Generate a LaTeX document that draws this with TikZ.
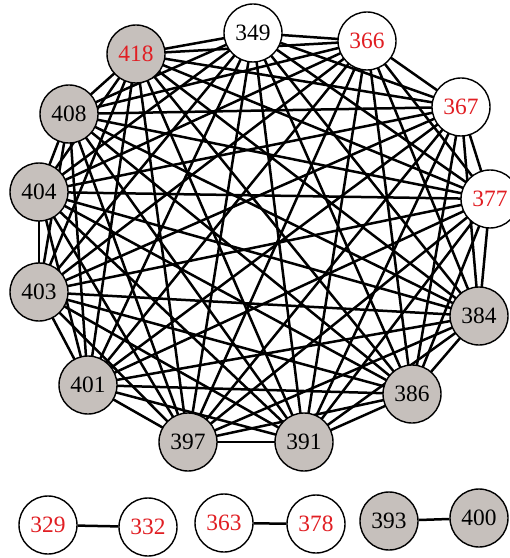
\documentclass[tikz,border=0pt]{standalone}
\usepackage{fontspec}
\setmainfont{Liberation Serif}
\usetikzlibrary{backgrounds}
\definecolor{nodegrey}{RGB}{198,192,188}
\definecolor{labred}{RGB}{225,30,35}
\tikzset{
  vtx/.style={circle, draw=black, line width=1.4bp, minimum size=58bp, inner sep=0pt,
    font=\fontsize{23.5}{23.5}\selectfont},
  gv/.style={vtx, fill=nodegrey},
  wv/.style={vtx, fill=white},
  redlab/.style={text=labred},
  edge/.style={line width=2.5bp, black}
}
\begin{document}
\begin{tikzpicture}[x=1bp,y=-1bp]
\useasboundingbox (0,0) rectangle (510,558);
% ring nodes
\node[wv] (n349) at (253,33) {349};
\node[wv,redlab] (n366) at (367,41) {366};
\node[wv,redlab] (n367) at (461,107) {367};
\node[wv,redlab] (n377) at (490,199) {377};
\node[gv] (n384) at (479,316) {384};
\node[gv] (n386) at (412,394) {386};
\node[gv] (n391) at (304,442) {391};
\node[gv] (n397) at (188,442) {397};
\node[gv] (n401) at (88,385) {401};
\node[gv] (n403) at (39,292) {403};
\node[gv] (n404) at (39,192) {404};
\node[gv] (n408) at (69,114) {408};
\node[gv,redlab] (n418) at (136,54) {418};
% bottom pairs
\node[wv,redlab] (n329) at (48,525) {329};
\node[wv,redlab] (n332) at (148,527) {332};
\node[wv,redlab] (n363) at (224,523) {363};
\node[wv,redlab] (n378) at (316,524) {378};
\node[gv] (n393) at (389,521) {393};
\node[gv] (n400) at (479,518) {400};
\begin{pgfonlayer}{background}
\fill[white] (0,0) rectangle (510,558);
% complete graph edges
\foreach \a [count=\i] in {349,366,367,377,384,386,391,397,401,403,404,408,418}{
  \foreach \b [count=\j] in {349,366,367,377,384,386,391,397,401,403,404,408,418}{
    \ifnum\j>\i
      \draw[edge] (n\a.center) -- (n\b.center);
    \fi
  }
}
\draw[edge] (n329) -- (n332);
\draw[edge] (n363) -- (n378);
\draw[edge] (n393) -- (n400);
\end{pgfonlayer}
\end{tikzpicture}
\end{document}
